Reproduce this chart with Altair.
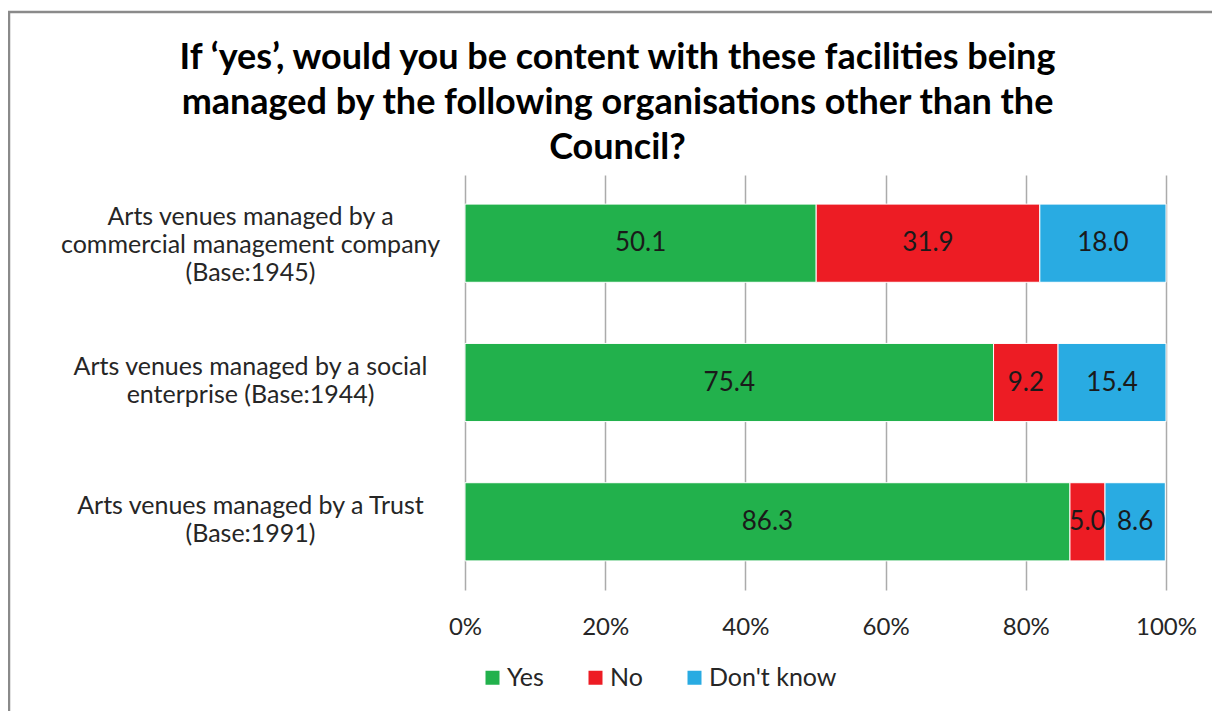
import altair as alt
import pandas as pd

categories = [
    "Arts venues managed by a|commercial management company|(Base:1945)",
    "Arts venues managed by a social|enterprise (Base:1944)",
    "Arts venues managed by a Trust|(Base:1991)",
]
series = ["Yes", "No", "Don't know"]
yes_vals = [50.1, 75.4, 86.3]
no_vals = [31.9, 9.2, 5.0]
dk_vals = [18.0, 15.4, 8.6]
colors = ["#22B14C", "#ED1C24", "#29ABE2"]
title_lines = [
    "If \u2018yes\u2019, would you be content with these facilities being",
    "managed by the following organisations other than the",
    "Council?",
]

rows = []
for i, c in enumerate(categories):
    for j, (s, vals) in enumerate(zip(series, [yes_vals, no_vals, dk_vals])):
        rows.append({"category": c, "series": s, "order": j, "value": vals[i]})
df = pd.DataFrame(rows)

FONT = "Lato"

base = alt.Chart(df).transform_stack(
    stack="value", groupby=["category"], as_=["start", "end"],
    sort=[alt.SortField("order", order="ascending")],
).transform_calculate(
    mid="(datum.start + datum.end) / 2"
)

yenc = alt.Y(
    "category:N", sort=categories, title=None,
    scale=alt.Scale(paddingInner=0.439, paddingOuter=0.209),
    axis=alt.Axis(
        labelExpr="split(datum.label, '|')", labelAlign="center",
        labelPadding=215, labelLineHeight=28, labelFontSize=25,
        labelFont=FONT, labelColor="#262626", domain=False, ticks=False,
        labelBaseline="middle", labelLimit=600,
        labelOffset={
            "condition": {"test": "indexof(datum.value, 'commercial') >= 0", "value": -26},
            "value": -16,
        },
    ),
)

bars = base.mark_bar(stroke="white", strokeWidth=1).encode(
    x=alt.X(
        "start:Q", title=None,
        scale=alt.Scale(domain=[0, 100], nice=False),
        axis=alt.Axis(
            values=[0, 20, 40, 60, 80, 100], labelExpr="datum.value + '%'",
            grid=True, gridColor="#ababab", gridWidth=1.5, domain=False,
            ticks=False, labelPadding=25, labelFontSize=24, labelFont=FONT,
            labelColor="#262626", labelFlush=False,
        ),
    ),
    x2="end:Q",
    y=yenc,
    color=alt.Color(
        "series:N", sort=series,
        scale=alt.Scale(domain=series, range=colors),
        legend=alt.Legend(
            title=None, orient="none", direction="horizontal",
            legendX=15, legendY=490, symbolType="square", symbolSize=196,
            symbolStrokeWidth=0, labelFontSize=25, labelFont=FONT,
            labelColor="#262626", columnPadding=39, labelOffset=2,
        ),
    ),
    order=alt.Order("order:Q"),
)

labels = base.mark_text(fontSize=26, font=FONT, color="#1a1a1a").encode(
    x=alt.X("mid:Q"),
    y=alt.Y("category:N", sort=categories),
    text=alt.Text("value:Q", format=".1f"),
)

border = alt.Chart(alt.Data(values=[{}])).mark_rect(
    filled=False, stroke="#8a8a8a", strokeWidth=2.5
).encode(
    x=alt.value(-456), x2=alt.value(800),
    y=alt.value(-163), y2=alt.value(600),
)

chart = alt.layer(border, bars, labels).properties(
    width=701, height=415,
    padding={"left": 457, "top": 167, "right": 46, "bottom": 121},
    autosize=alt.AutoSizeParams(type="none"),
    title=alt.TitleParams(
        text=title_lines, anchor="middle", dx=-198, dy=170, fontSize=36,
        font=FONT, fontWeight="bold", color="#000000", lineHeight=45,
        offset=14,
    ),
).configure_view(stroke=None)

chart.save("out.html", embed_options={"renderer": "svg", "actions": False})
